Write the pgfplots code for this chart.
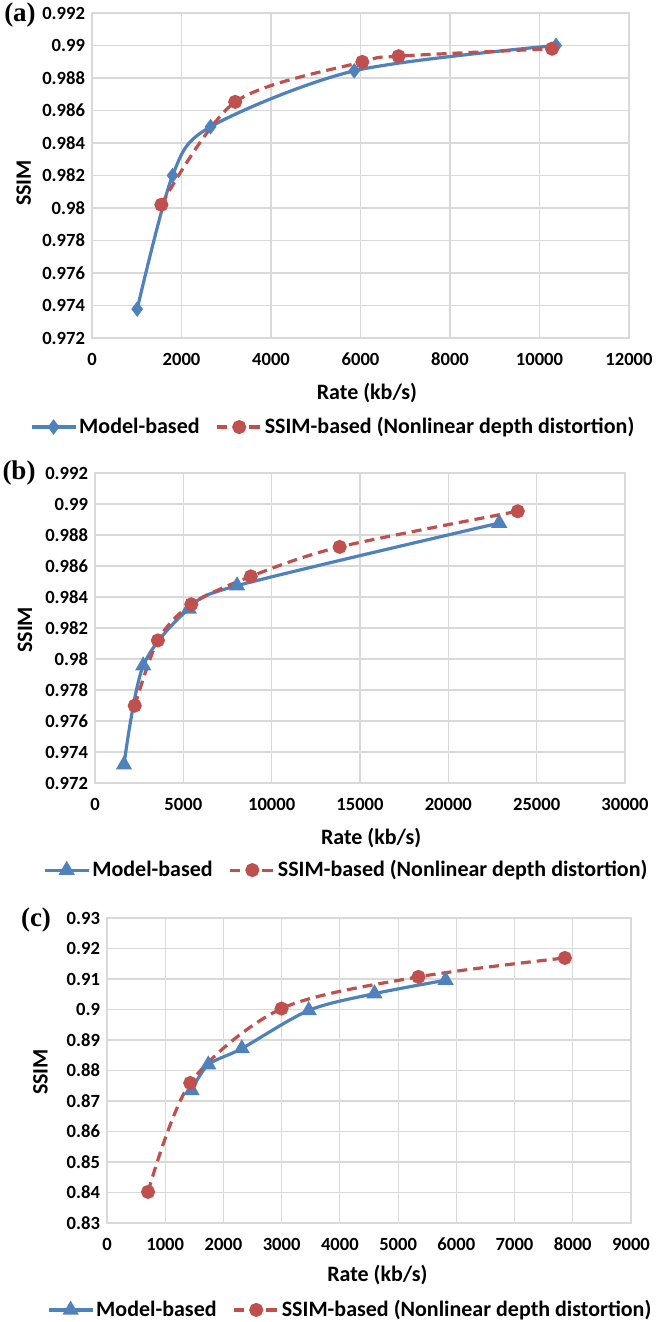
\documentclass[border=0pt]{standalone}
\usepackage{pgfplots}
\pgfplotsset{compat=1.18}
\usepackage{fontspec}
\setmainfont{Carlito}
\newfontfamily\panelfont{Liberation Serif}
\definecolor{xlblue}{HTML}{4F81BD}
\definecolor{xlred}{HTML}{C0504D}
\definecolor{gridgray}{HTML}{D9D9D9}

\pgfplotsset{
  rdstyle/.style={
    scale only axis,
    axis line style={draw=gridgray, line width=0.6pt},
    grid=major,
    grid style={draw=gridgray, line width=0.6pt},
    major tick length=0pt,
    scaled x ticks=false, scaled y ticks=false,
    /pgf/number format/assume math mode=true,
    tick label style={font=\fontsize{9.3}{10}\selectfont\bfseries},
    xticklabel style={/pgf/number format/fixed, /pgf/number format/precision=0,
      /pgf/number format/1000 sep={}, yshift=-4pt},
    yticklabel style={/pgf/number format/fixed, /pgf/number format/precision=3},
    label style={font=\fontsize{11}{12}\selectfont\bfseries},
    xlabel={Rate (kb/s)}, ylabel={SSIM},
    legend columns=2,
    legend style={draw=none, fill=none, font=\fontsize{11}{12}\selectfont\bfseries,
      inner sep=0pt, nodes={inner xsep=1pt},
      /tikz/every even column/.append style={column sep=7pt}},
    legend image code/.code={\draw[mark repeat=2, mark phase=2]
      plot coordinates {(0pt,0pt) (11pt,0pt) (22pt,0pt)};},
  },
  model/.style={xlblue, line width=1.6pt, smooth, mark options={solid, fill=xlblue}},
  ssim/.style={xlred, line width=1.6pt, smooth, dash pattern=on 5pt off 3pt,
    mark=*, mark size=2.7pt, mark options={solid, fill=xlred}},
}

\begin{document}
\begin{tikzpicture}
\useasboundingbox (0pt,0pt) rectangle (328pt,661pt);

% (a)
\begin{axis}[rdstyle, at={(46pt,492pt)}, anchor=south west,
  width=268.5pt, height=162.5pt,
  xmin=0, xmax=12000, ymin=0.972, ymax=0.992,
  xtick={0,2000,4000,6000,8000,10000,12000},
  ytick={0.972,0.974,0.976,0.978,0.98,0.982,0.984,0.986,0.988,0.99,0.992},
  xlabel style={at={(axis description cs:0.512,-0.169)}, anchor=center},
  ylabel style={at={(axis description cs:-0.127,0.477)}, anchor=center},
  legend style={at={(axis description cs:0.449,-0.274)}, anchor=center}]
\addplot[model, mark=diamond*, mark size=2.6pt] coordinates {
  (1010,0.97378) (1800,0.982) (2650,0.985) (5860,0.98844) (10370,0.990)};
\addlegendentry{Model-based}
\addplot[ssim] coordinates {
  (1550,0.9802) (3200,0.98653) (6040,0.98899) (6850,0.98934) (10280,0.9898)};
\addlegendentry{SSIM-based (Nonlinear depth distortion)}
\end{axis}

% (b)
\begin{axis}[rdstyle, at={(47.5pt,269.5pt)}, anchor=south west,
  width=265pt, height=155pt,
  xmin=0, xmax=30000, ymin=0.972, ymax=0.992,
  xtick={0,5000,10000,15000,20000,25000,30000},
  ytick={0.972,0.974,0.976,0.978,0.98,0.982,0.984,0.986,0.988,0.99,0.992},
  xlabel style={at={(axis description cs:0.521,-0.177)}, anchor=center},
  ylabel style={at={(axis description cs:-0.132,0.494)}, anchor=center},
  legend style={at={(axis description cs:0.474,-0.281)}, anchor=center}]
\addplot[model, mark=triangle*, mark size=3.1pt] coordinates {
  (1640,0.97318) (2730,0.97957) (5310,0.98323) (8040,0.98473) (22880,0.98877)};
\addlegendentry{Model-based}
\addplot[ssim] coordinates {
  (2250,0.97699) (3560,0.9812) (5450,0.98353) (8820,0.98533) (13850,0.98723) (23930,0.98953)};
\addlegendentry{SSIM-based (Nonlinear depth distortion)}
\end{axis}

% (c)
\begin{axis}[rdstyle, at={(53.5pt,49.5pt)}, anchor=south west,
  width=262pt, height=152.5pt,
  xmin=0, xmax=9000, ymin=0.83, ymax=0.93,
  xtick={0,1000,2000,3000,4000,5000,6000,7000,8000,9000},
  ytick={0.83,0.84,0.85,0.86,0.87,0.88,0.89,0.9,0.91,0.92,0.93},
  xlabel style={at={(axis description cs:0.516,-0.170)}, anchor=center},
  ylabel style={at={(axis description cs:-0.127,0.495)}, anchor=center},
  legend style={at={(axis description cs:0.464,-0.285)}, anchor=center}]
\addplot[model, mark=triangle*, mark size=3.1pt] coordinates {
  (1452,0.8735) (1740,0.8819) (2315,0.8872) (3465,0.8997) (4594,0.9052) (5816,0.9096)};
\addlegendentry{Model-based}
\addplot[ssim] coordinates {
  (705,0.8402) (1430,0.8759) (2998,0.9003) (5349,0.9107) (7865,0.9169)};
\addlegendentry{SSIM-based (Nonlinear depth distortion)}
\end{axis}

\node[font=\panelfont\bfseries\fontsize{13.5}{14}\selectfont] at (10pt,653.5pt) {(a)};
\node[font=\panelfont\bfseries\fontsize{13.5}{14}\selectfont] at (9.5pt,424.5pt) {(b)};
\node[font=\panelfont\bfseries\fontsize{13.5}{14}\selectfont] at (18pt,201pt) {(c)};
\end{tikzpicture}
\end{document}
